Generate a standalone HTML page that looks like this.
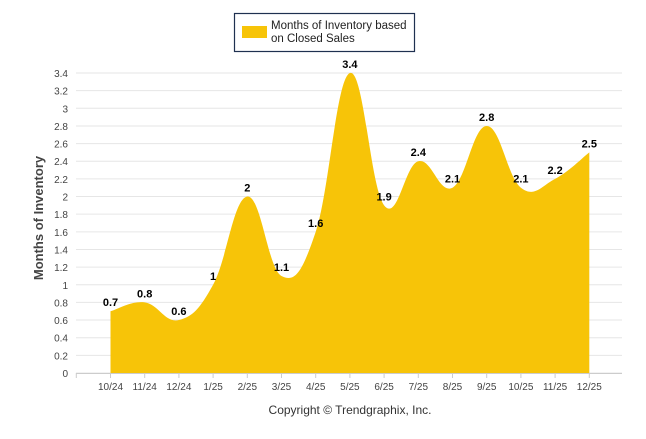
<!DOCTYPE html>
<html><head><meta charset="utf-8"><style>
body{margin:0;background:#fff;font-family:"Liberation Sans",sans-serif}
svg text{font-family:"Liberation Sans",sans-serif}
</style></head><body>
<svg id="c" width="646" height="434">
<g id="grid"></g><g id="area"></g><g id="labels"></g><g id="axes"></g>
<g>
<rect x="234.5" y="13.5" width="180" height="38" fill="#fff" stroke="#1f3050" stroke-width="1.2"/>
<rect x="242" y="26" width="25" height="12" fill="#f7c408"/>
<text x="271" y="29" font-size="11.5" fill="#222">Months of Inventory based</text>
<text x="271" y="42" font-size="11.5" fill="#222">on Closed Sales</text>
</g>
<text x="43" y="218" font-size="13" font-weight="bold" fill="#444" transform="rotate(-90 43 218)" text-anchor="middle">Months of Inventory</text>
<text x="350" y="414" font-size="12" fill="#333" text-anchor="middle">Copyright © Trendgraphix, Inc.</text>
</svg>
<script>
const categories=["10/24","11/24","12/24","1/25","2/25","3/25","4/25","5/25","6/25","7/25","8/25","9/25","10/25","11/25","12/25"];
const values=[0.7,0.8,0.6,1,2,1.1,1.6,3.4,1.9,2.4,2.1,2.8,2.1,2.2,2.5];
const yTicks=[0,0.2,0.4,0.6,0.8,1,1.2,1.4,1.6,1.8,2,2.2,2.4,2.6,2.8,3,3.2,3.4];
const NS="http://www.w3.org/2000/svg";
const x0=110.5,dx=34.2,y0=373,ppu=300/3.4;
const X=i=>x0+i*dx, Y=v=>y0-v*ppu;
function mk(t,a,p){const e=document.createElementNS(NS,t);for(const k in a)e.setAttribute(k,a[k]);p.appendChild(e);return e;}
const grid=document.getElementById('grid'),axes=document.getElementById('axes');
yTicks.forEach(t=>{
 const l=mk('line',{x1:76,x2:622,y1:Y(t),y2:Y(t),stroke:'#e6e6e6'},grid);
 
 
 const tx=mk('text',{x:68,y:Y(t)+4,'font-size':10,fill:'#444','text-anchor':'end'},axes);
 tx.textContent=String(t);
 
 
});
mk('line',{x1:76,x2:622,y1:y0+0.5,y2:y0+0.5,stroke:'#ccc'},axes);
for(let i=-1;i<categories.length;i++){mk('line',{x1:X(i)+dx/2*0+0,x2:X(i),y1:y0,y2:y0+5,stroke:'#ccc'},axes);}
categories.forEach((c,i)=>{
 const t=mk('text',{x:X(i),y:y0+17,'font-size':10,fill:'#444','text-anchor':'middle'},axes);
 t.textContent=c;
 
 
});
const pts=values.map((v,i)=>[X(i),Y(v)]);
let d=`M${pts[0][0]},${y0}L${pts[0][0]},${pts[0][1]}`;
for(let i=0;i<pts.length-1;i++){
 const p0=pts[Math.max(0,i-1)],p1=pts[i],p2=pts[i+1],p3=pts[Math.min(pts.length-1,i+2)];
 const k=0.2;
 const c1=[p1[0]+(p2[0]-p0[0])*k,p1[1]+(p2[1]-p0[1])*k];
 const c2=[p2[0]-(p3[0]-p1[0])*k,p2[1]-(p3[1]-p1[1])*k];
 d+=`C${c1[0]},${c1[1]} ${c2[0]},${c2[1]} ${p2[0]},${p2[1]}`;
}
d+=`L${pts[pts.length-1][0]},${y0}Z`;
const a=mk('path',{d:d,fill:'#f7c408'},document.getElementById('area'));


const lab=document.getElementById('labels');
values.forEach((v,i)=>{
 const t=mk('text',{x:X(i),y:Y(v)-5,'font-size':11,'font-weight':'bold',fill:'#000','text-anchor':'middle'},lab);
 t.textContent=String(v);
 
 
});
</script>
</body></html>
